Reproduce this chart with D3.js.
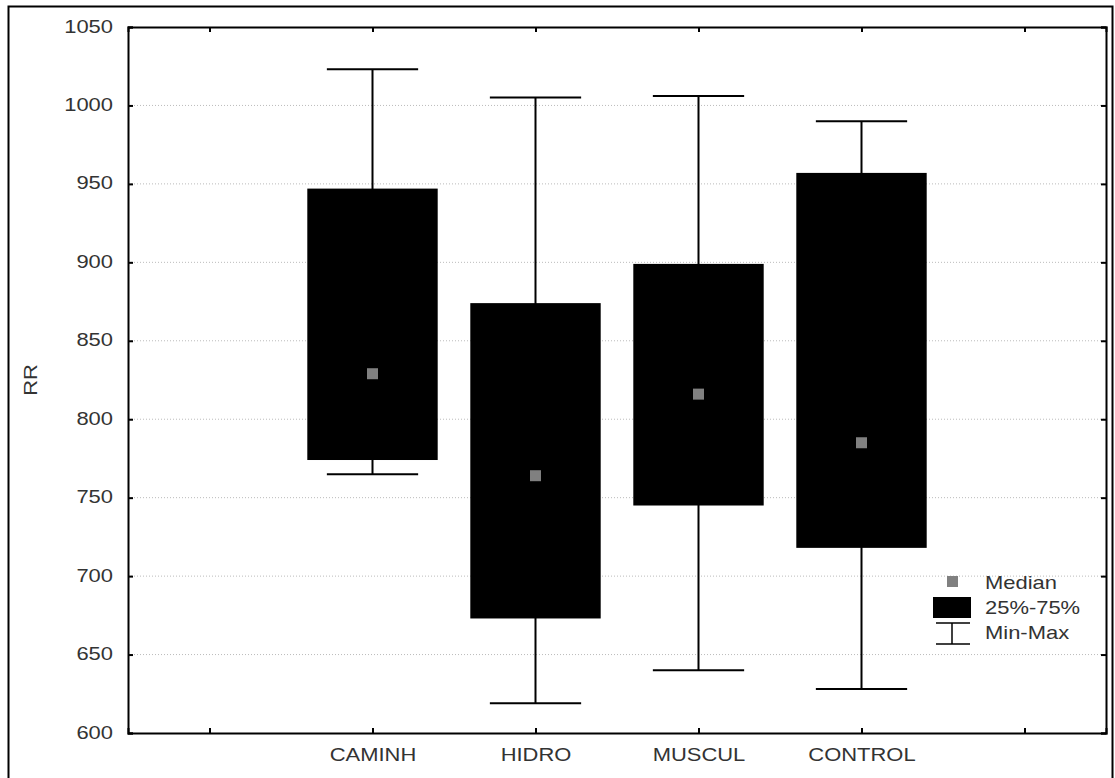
<!DOCTYPE html>
<html lang="en">
<head>
<meta charset="utf-8">
<title>RR box plot</title>
<script src="https://d3js.org/d3.v7.min.js"></script>
<style>
  body { margin: 0; background: #fff; }
  text { font-family: "Liberation Sans", Arial, sans-serif; fill: #333; }
</style>
</head>
<body>
<div id="chart"></div>
<script>
// categories and box statistics
var groups  = ["CAMINH", "HIDRO", "MUSCUL", "CONTROL"];
var maxVals = [1023, 1005, 1006, 990];
var q3Vals  = [947, 874, 899, 957];
var medians = [829, 764, 816, 785];
var q1Vals  = [774, 673, 745, 718];
var minVals = [765, 619, 640, 628];
var yTicks  = [600, 650, 700, 750, 800, 850, 900, 950, 1000, 1050];

var W = 1115, H = 778;
var margin = {top: 27, right: 9, bottom: 45, left: 128};
var width = W - margin.left - margin.right,
    height = H - margin.top - margin.bottom;

// the original text is a bit wide, stretch it horizontally
var K = 1.22;
function stretch(sel) {
  sel.each(function() {
    var t = d3.select(this);
    var x0 = +t.attr("x") || 0;
    t.attr("x", x0 / K)
     .style("font-size", "18px")
     .attr("transform", (t.attr("transform") || "") + " scale(" + K + ",1)");
  });
}

var svg = d3.select("#chart").append("svg")
    .attr("width", W).attr("height", H);

// outer frame
svg.append("rect")
  .attr("x", 8.5).attr("y", 6.5)
  .attr("width", 1104).attr("height", 800)
  .attr("fill", "none").attr("stroke", "#000").attr("stroke-width", 2);

var g = svg.append("g")
  .attr("transform", "translate(" + margin.left + "," + margin.top + ")");

// x: six slots, first and last empty
var slots = ["_a"].concat(groups).concat(["_b"]);
var x = d3.scalePoint().domain(slots).range([0, width]).padding(0.5);
var step = x.step();

var y = d3.scaleLinear().domain([600, 1050]).range([height, 0]);

// grid
g.append("g").selectAll("line")
  .data(yTicks.slice(1, -1))
  .enter().append("line")
    .attr("x1", 0).attr("x2", width)
    .attr("y1", function(d) { return y(d); })
    .attr("y2", function(d) { return y(d); })
    .attr("stroke", "#bbb")
    .attr("stroke-dasharray", "1,2");

// axes (ticks pointing inward)
var axL = g.append("g").call(d3.axisLeft(y).tickValues(yTicks).tickSize(-5).tickPadding(15).tickFormat(d3.format("d")));
var axR = g.append("g").attr("transform", "translate(" + width + ",0)")
  .call(d3.axisRight(y).tickValues(yTicks).tickSize(-5).tickFormat(""));
var axB = g.append("g").attr("transform", "translate(0," + height + ")")
  .call(d3.axisBottom(x).tickSize(-5).tickPadding(15)
    .tickFormat(function(d) { return d.charAt(0) === "_" ? "" : d; }));
var axT = g.append("g")
  .call(d3.axisTop(x).tickSize(-5).tickFormat(""));

[axL, axR, axB, axT].forEach(function(a) {
  a.select(".domain").attr("stroke", "#000").attr("stroke-width", 2);
  a.selectAll(".tick line").attr("stroke", "#000").attr("stroke-width", 2);
  a.selectAll("text").attr("fill", "#333").call(stretch);
});
axL.selectAll(".tick text").attr("dy", "0.28em");

// y label
svg.append("text")
  .attr("transform", "translate(37," + (margin.top + height / 2) + ") rotate(-90)")
  .attr("text-anchor", "middle")
  .text("RR")
  .call(stretch);

// boxes
var data = groups.map(function(d, i) {
  return {name: d, max: maxVals[i], q3: q3Vals[i], med: medians[i], q1: q1Vals[i], min: minVals[i]};
});
var boxW = step * 0.8, capW = step * 0.56, medS = 11;

var box = g.append("g").selectAll("g")
  .data(data).enter().append("g")
  .attr("transform", function(d) { return "translate(" + x(d.name) + ",0)"; });

box.append("line")
  .attr("x1", 0).attr("x2", 0)
  .attr("y1", function(d) { return y(d.max); })
  .attr("y2", function(d) { return y(d.min); })
  .attr("stroke", "#000").attr("stroke-width", 2);
box.append("line")
  .attr("x1", -capW / 2).attr("x2", capW / 2)
  .attr("y1", function(d) { return y(d.max); })
  .attr("y2", function(d) { return y(d.max); })
  .attr("stroke", "#000").attr("stroke-width", 2);
box.append("line")
  .attr("x1", -capW / 2).attr("x2", capW / 2)
  .attr("y1", function(d) { return y(d.min); })
  .attr("y2", function(d) { return y(d.min); })
  .attr("stroke", "#000").attr("stroke-width", 2);
box.append("rect")
  .attr("x", -boxW / 2).attr("width", boxW)
  .attr("y", function(d) { return y(d.q3); })
  .attr("height", function(d) { return y(d.q1) - y(d.q3); })
  .attr("fill", "#000");
box.append("rect")
  .attr("x", -medS / 2).attr("width", medS)
  .attr("y", function(d) { return y(d.med) - medS / 2; })
  .attr("height", medS)
  .attr("fill", "#808080");

// legend
var lg = svg.append("g").attr("transform", "translate(933,570)");
lg.append("rect").attr("x", 14).attr("y", 6).attr("width", 11).attr("height", 11).attr("fill", "#808080");
lg.append("text").attr("x", 52).attr("y", 19).text("Median").call(stretch);
lg.append("rect").attr("x", 0).attr("y", 27).attr("width", 38).attr("height", 21).attr("fill", "#000");
lg.append("text").attr("x", 52).attr("y", 44).text("25%-75%").call(stretch);
lg.append("line").attr("x1", 3).attr("x2", 37).attr("y1", 53).attr("y2", 53).attr("stroke", "#000").attr("stroke-width", 1.5);
lg.append("line").attr("x1", 3).attr("x2", 37).attr("y1", 74).attr("y2", 74).attr("stroke", "#000").attr("stroke-width", 1.5);
lg.append("line").attr("x1", 19).attr("x2", 19).attr("y1", 53).attr("y2", 74).attr("stroke", "#000").attr("stroke-width", 1.5);
lg.append("text").attr("x", 52).attr("y", 69).text("Min-Max").call(stretch);
</script>
</body>
</html>
